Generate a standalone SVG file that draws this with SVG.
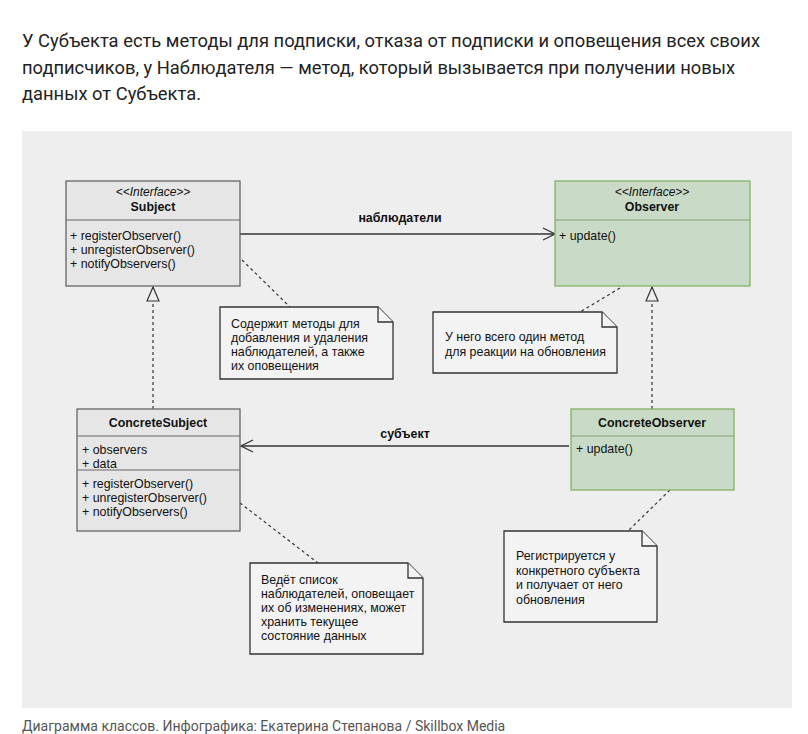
<svg xmlns="http://www.w3.org/2000/svg" width="808" height="734" viewBox="0 0 808 734">
<defs>
<style>
.h{font-family:Roboto,"Liberation Sans",sans-serif;font-size:18px;fill:#222}
.t{font-family:"Liberation Sans",Arial,sans-serif;font-size:12.4px;fill:#111}
.b{font-weight:bold}
.i{font-style:italic;font-size:12px}
.gray{fill:#e6e6e6;stroke:#666;stroke-width:1.3}
.green{fill:#c9dbc6;stroke:#82b366;stroke-width:1.3}
.gl{stroke:#666;stroke-width:1}
.grl{stroke:#82a078;stroke-width:1}
.note{fill:#f3f3f3;stroke:#333;stroke-width:1.3}
.dash{stroke:#333;stroke-width:1.2;stroke-dasharray:3,3;fill:none}
.line{stroke:#333;stroke-width:1.3;fill:none}
.cap{font-family:Roboto,"Liberation Sans",sans-serif;font-size:14px;fill:#555}
</style>
<marker id="open" viewBox="0 0 14 14" refX="13" refY="7" markerWidth="14" markerHeight="14" markerUnits="userSpaceOnUse" orient="auto">
<path d="M1,1 L13,7 L1,13" fill="none" stroke="#333" stroke-width="1.3"/>
</marker>
<marker id="tri" viewBox="0 0 16 16" refX="15" refY="8" markerWidth="16" markerHeight="16" markerUnits="userSpaceOnUse" orient="auto">
<path d="M1,2 L15,8 L1,14 Z" fill="#eeeeee" stroke="#333" stroke-width="1.2"/>
</marker>
</defs>
<rect width="808" height="734" fill="#fff"/>
<g id="intro">
<text class="h" x="22" y="47" textLength="738" lengthAdjust="spacingAndGlyphs">У Субъекта есть методы для подписки, отказа от подписки и оповещения всех своих</text>
<text class="h" x="22" y="74" textLength="713" lengthAdjust="spacingAndGlyphs">подписчиков, у Наблюдателя — метод, который вызывается при получении новых</text>
<text class="h" x="22" y="100" textLength="179" lengthAdjust="spacingAndGlyphs">данных от Субъекта.</text>
</g>
<rect x="22" y="131" width="770" height="577" fill="#eeeeee"/>
<g id="connectors">
<line class="line" x1="240" y1="234" x2="555" y2="234" marker-end="url(#open)"/>
<text class="t b" x="400" y="222" text-anchor="middle">наблюдатели</text>
<line class="line" x1="569" y1="446" x2="241" y2="446" marker-end="url(#open)"/>
<text class="t b" x="405" y="438" text-anchor="middle">субъект</text>
<line class="dash" x1="153" y1="409" x2="153" y2="287" marker-end="url(#tri)"/>
<line class="dash" x1="652" y1="409" x2="652" y2="287" marker-end="url(#tri)"/>
<line class="dash" x1="242" y1="260" x2="290" y2="307"/>
<line class="dash" x1="620" y1="288" x2="580" y2="312"/>
<line class="dash" x1="240" y1="503" x2="318" y2="563"/>
<line class="dash" x1="670" y1="490" x2="628" y2="531"/>
</g>
<g id="subject">
<rect class="gray" x="66" y="181" width="174" height="105"/>
<line class="gl" x1="66" y1="220" x2="240" y2="220"/>
<text class="t i" x="153" y="196" text-anchor="middle">&lt;&lt;Interface&gt;&gt;</text>
<text class="t b" x="153" y="211" text-anchor="middle">Subject</text>
<text class="t" x="70" y="240">+ registerObserver()</text>
<text class="t" x="70" y="254">+ unregisterObserver()</text>
<text class="t" x="70" y="268">+ notifyObservers()</text>
</g>
<g id="observer">
<rect class="green" x="555" y="181" width="195" height="105"/>
<line class="grl" x1="555" y1="220" x2="750" y2="220"/>
<text class="t i" x="652" y="196" text-anchor="middle">&lt;&lt;Interface&gt;&gt;</text>
<text class="t b" x="652" y="211" text-anchor="middle">Observer</text>
<text class="t" x="559" y="240">+ update()</text>
</g>
<g id="concreteSubject">
<rect class="gray" x="77" y="409" width="163" height="122"/>
<line class="gl" x1="77" y1="436" x2="240" y2="436"/>
<line class="gl" x1="77" y1="470" x2="240" y2="470"/>
<text class="t b" x="158" y="427" text-anchor="middle">ConcreteSubject</text>
<text class="t" x="82" y="454">+ observers</text>
<text class="t" x="82" y="468">+ data</text>
<text class="t" x="82" y="488">+ registerObserver()</text>
<text class="t" x="82" y="502">+ unregisterObserver()</text>
<text class="t" x="82" y="516">+ notifyObservers()</text>
</g>
<g id="concreteObserver">
<rect class="green" x="571" y="409" width="163" height="81"/>
<line class="grl" x1="571" y1="436" x2="734" y2="436"/>
<text class="t b" x="652" y="427" text-anchor="middle">ConcreteObserver</text>
<text class="t" x="576" y="453">+ update()</text>
</g>
<g id="note1">
<path class="note" d="M220,307 H378 L393,322 V379 H220 Z"/>
<path class="note" d="M378,307 V322 H393" fill="none"/>
<text class="t" x="231" y="328">Содержит методы для</text>
<text class="t" x="231" y="342">добавления и удаления</text>
<text class="t" x="231" y="356">наблюдателей, а также</text>
<text class="t" x="231" y="370">их оповещения</text>
</g>
<g id="note2">
<path class="note" d="M433,312 H602 L617,327 V373 H433 Z"/>
<path class="note" d="M602,312 V327 H617" fill="none"/>
<text class="t" x="445" y="341">У него всего один метод</text>
<text class="t" x="445" y="356">для реакции на обновления</text>
</g>
<g id="note3">
<path class="note" d="M250,563 H408 L423,578 V654 H250 Z"/>
<path class="note" d="M408,563 V578 H423" fill="none"/>
<text class="t" x="261" y="584">Ведёт список</text>
<text class="t" x="261" y="598">наблюдателей, оповещает</text>
<text class="t" x="261" y="612">их об изменениях, может</text>
<text class="t" x="261" y="626">хранить текущее</text>
<text class="t" x="261" y="640">состояние данных</text>
</g>
<g id="note4">
<path class="note" d="M504,531 H642 L657,546 V622 H504 Z"/>
<path class="note" d="M642,531 V546 H657" fill="none"/>
<text class="t" x="516" y="560">Регистрируется у</text>
<text class="t" x="516" y="575">конкретного субъекта</text>
<text class="t" x="516" y="589">и получает от него</text>
<text class="t" x="516" y="604">обновления</text>
</g>
<text class="cap" x="22" y="731">Диаграмма классов. Инфографика: Екатерина Степанова / Skillbox Media</text>
</svg>
